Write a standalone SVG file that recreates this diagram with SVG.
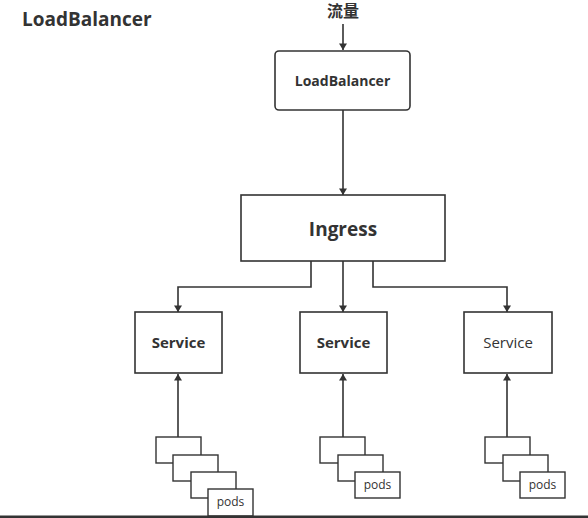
<svg xmlns="http://www.w3.org/2000/svg" width="588" height="518" viewBox="0 0 588 518">
<style>
.box{fill:#fff;stroke:#333;stroke-width:1.6}
.pod{fill:#fff;stroke:#333;stroke-width:1.4}
.ln{fill:none;stroke:#333;stroke-width:1.6}
text{font-family:"Open Sans","Noto Sans CJK SC",sans-serif;fill:#333;text-anchor:middle}
.b{font-weight:bold}
</style>
<defs>
<marker id="ah" viewBox="0 0 8 10" refX="8" refY="5" markerWidth="10" markerHeight="8" markerUnits="userSpaceOnUse" orient="auto">
<path d="M0,0 L10,4 L0,8 z" fill="#333" transform="scale(0.8,1.25)"/>
</marker>
</defs>
<rect width="588" height="518" fill="#fff"/>
<text x="22" y="26" class="b" style="font-size:19px;text-anchor:start">LoadBalancer</text>
<text id="traffic" x="343" y="17" class="b" style="font-size:16px">流量</text>
<g id="connectors">
<line class="ln" x1="343" y1="24" x2="343" y2="50" marker-end="url(#ah)"/>
<line class="ln" x1="343" y1="110" x2="343" y2="195" marker-end="url(#ah)"/>
<polyline class="ln" points="311,261 311,287 178,287 178,312" marker-end="url(#ah)"/>
<line class="ln" x1="343" y1="261" x2="343" y2="312" marker-end="url(#ah)"/>
<polyline class="ln" points="373,261 373,287 507,287 507,312" marker-end="url(#ah)"/>
<line class="ln" x1="178" y1="437" x2="178" y2="374" marker-end="url(#ah)"/>
<line class="ln" x1="343" y1="437" x2="343" y2="374" marker-end="url(#ah)"/>
<line class="ln" x1="507" y1="437" x2="507" y2="374" marker-end="url(#ah)"/>
</g>
<g id="loadbalancer">
<rect class="box" x="275" y="51" width="135" height="59" rx="4"/>
<text x="342.5" y="86" class="b" style="font-size:14px">LoadBalancer</text>
</g>
<g id="ingress">
<rect class="box" x="241" y="195" width="204" height="66"/>
<text x="343" y="236" class="b" style="font-size:19px">Ingress</text>
</g>
<g id="service1">
<rect class="box" x="135" y="312" width="87" height="61"/>
<text x="178.5" y="348" class="b" style="font-size:15px">Service</text>
</g>
<g id="service2">
<rect class="box" x="300" y="312" width="87" height="61"/>
<text x="343.5" y="348" class="b" style="font-size:15px">Service</text>
</g>
<g id="service3">
<rect class="box" x="464" y="312" width="88" height="61"/>
<text x="508" y="348" style="font-size:15px">Service</text>
</g>
<g id="pods1">
<rect class="pod" x="156" y="437" width="45" height="26"/>
<rect class="pod" x="173" y="455" width="45" height="26"/>
<rect class="pod" x="191" y="472" width="45" height="26"/>
<rect class="pod" x="208" y="489" width="45" height="27"/>
<text x="230.5" y="506" style="font-size:12px">pods</text>
</g>
<g id="pods2">
<rect class="pod" x="320" y="437" width="45" height="26"/>
<rect class="pod" x="338" y="455" width="45" height="26"/>
<rect class="pod" x="355" y="472" width="45" height="26"/>
<text x="377.5" y="489" style="font-size:12px">pods</text>
</g>
<g id="pods3">
<rect class="pod" x="485" y="437" width="45" height="26"/>
<rect class="pod" x="503" y="455" width="45" height="26"/>
<rect class="pod" x="520" y="472" width="45" height="26"/>
<text x="542.5" y="489" style="font-size:12px">pods</text>
</g>
<rect id="baseline" x="0" y="515.5" width="588" height="2.5" fill="#333"/>
</svg>
